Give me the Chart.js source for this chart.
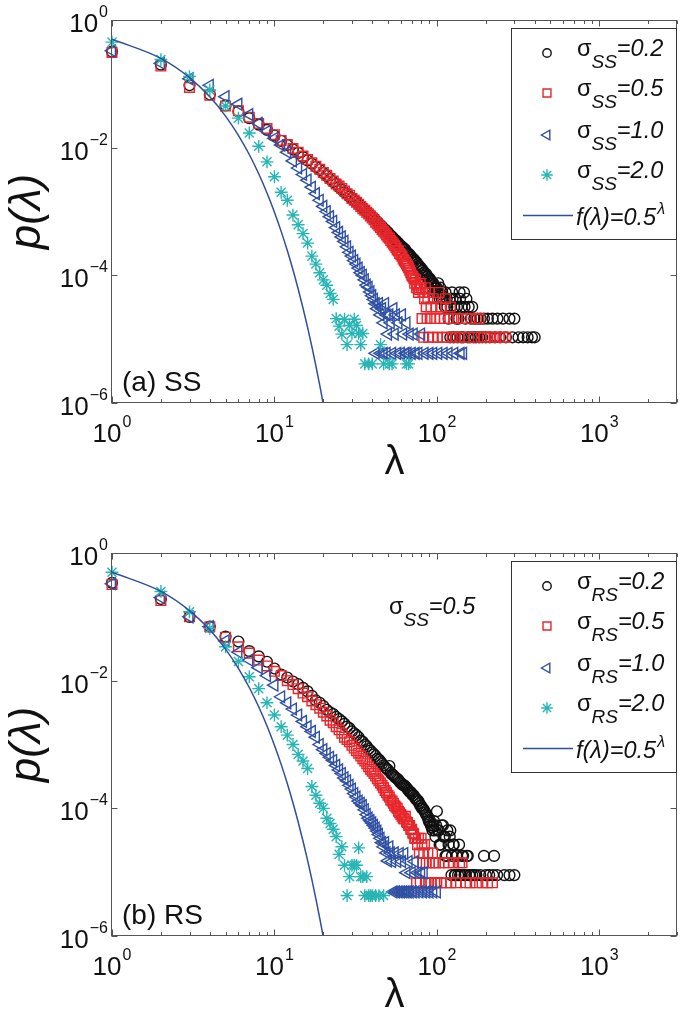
<!DOCTYPE html>
<html><head><meta charset="utf-8">
<script src="https://cdn.jsdelivr.net/npm/chart.js@4.4.0/dist/chart.umd.min.js"></script>
<style>
html,body{margin:0;padding:0;background:#fff;}
#wrap{position:relative;width:685px;height:1024px;overflow:hidden;}
canvas{position:absolute;left:0;display:block;}
</style></head><body>
<div id="wrap">
<canvas id="cA" width="685" height="512" style="top:0"></canvas>
<canvas id="cB" width="685" height="512" style="top:512px"></canvas>
</div>
<script>
// ---------- DATA (λ, p(λ)) ----------
const sigmaValues = ['0.2','0.5','1.0','2.0'];
const xTickValues = [1,10,100,1000];
const yTickValues = [1,1e-2,1e-4,1e-6];

const ss02 = [[1,.32],[2,.2],[3,.095],[4,.068],[5,.046],[6,.037],[7,.029],[8,.023],[9,.019],[10,.0155],[11,.0128],[12,.011],[13,.0094],[14,.0083],[15,.0071],[16,.0063],[17,.0056],[18,.005],[19,.0045],[20,.004],[21,.0036],[22,.0032],[23,.0029],[24,.0027],[25,.0024],[26,.0022],[27,.002],[28,.0019],[29,.0017],[30,.0016],[31,.0015],[32,.0014],[33,.0013],[34,.00122],[35,.00114],[36,.00106],[37,.00099],[38,.00094],[39,.00088],[40,.00082],[41,.00078],[42,.00072],[43,.00069],[44,.00064],[45,.00061],[46,.00058],[47,.00054],[48,.00052],[49,.00049],[50,.00047],[51,.00044],[52,.00042],[53,.0004],[54,.00038],[55,.00036],[56,.00035],[57,.00033],[58,.00032],[59,.0003],[60,.00029],[61,.00028],[62,.00027],[63,.00026],[64,.00025],[65,.00023],[66,.00022],[67,.00022],[68,.00021],[69,.0002],[70,.00019],[71,.00018],[72,.00018],[73,.00017],[74,.00016],[75,.00016],[76,.00015],[77,.00014],[78,.00014],[79,.00013],[80,.00013],[81,.00012],[82,.00012],[83,.00011],[84,.00011],[85,.0001],[86,.000105],[87,.000096],[88,.000095],[89,.000085],[90,.00009],[91,.000086],[92,.000075],[93,.00008],[94,.000064],[95,.000075],[96,.00007],[97,.000064],[98,.000054],[99,.000064],[100,.000064],[101,.000054],[102,.000075],[103,.000054],[104,.000043],[105,.000064],[106,.00005],[107,.000043],[108,.000054],[110,.000043],[112,.000032],[113,.000054],[115,.000043],[116,.000032],[118,.000021],[120,.000043],[121,.0000107],[122,.000032],[124,.000054],[125,.000043],[127,.0000107],[128,.000032],[130,.000043],[132,.000021],[133,.000032],[134,.0000107],[136,.000021],[138,.000054],[139,.000043],[141,.0000107],[142,.000032],[145,.0000107],[147,.000054],[148,.000032],[150,.000021],[152,.000043],[155,.0000107],[157,.000032],[160,.0000107],[162,.000021],[165,.000032],[168,.0000107],[170,.000021],[174,.0000107],[178,.000021],[182,.0000107],[186,.000021],[190,.0000107],[195,.000021],[200,.0000107],[206,.000021],[212,.0000107],[220,.000021],[228,.0000107],[236,.000021],[245,.0000107],[255,.000021],[266,.0000107],[280,.000021],[292,.0000107],[300,.000021],[318,.0000107],[340,.0000107],[362,.0000107],[385,.0000107],[400,.0000107]];

const ss05 = [[1,.31],[2,.19],[3,.088],[4,.066],[5,.045],[6,.038],[7,.03],[8,.024],[9,.02],[10,.016],[11,.013],[12,.0112],[13,.0097],[14,.0085],[15,.0074],[16,.0065],[17,.0058],[18,.0051],[19,.0046],[20,.0041],[21,.0037],[22,.0033],[23,.003],[24,.0027],[25,.0025],[26,.0023],[27,.0021],[28,.0019],[29,.0018],[30,.0016],[31,.0015],[32,.0014],[33,.0013],[34,.0012],[35,.0011],[36,.00105],[37,.00097],[38,.00091],[39,.00085],[40,.00079],[41,.00074],[42,.00068],[43,.00064],[44,.0006],[45,.00056],[46,.00052],[47,.00049],[48,.00046],[49,.00043],[50,.0004],[51,.00038],[52,.00035],[53,.00033],[54,.00031],[55,.00029],[56,.00027],[57,.00025],[58,.00024],[59,.00022],[60,.00021],[61,.0002],[62,.00018],[63,.00017],[64,.00016],[65,.00015],[66,.00014],[67,.00013],[68,.00012],[69,.00011],[70,.0001],[71,.000096],[72,.00009],[73,.000075],[74,.000085],[75,.000064],[76,.00007],[77,.000054],[78,.00006],[79,.000075],[80,.000064],[81,.000021],[82,.000054],[83,.0000107],[84,.000043],[85,.000064],[86,.000032],[87,.000021],[88,.000043],[89,.0000107],[90,.000054],[91,.000021],[92,.000032],[94,.0000107],[95,.000043],[97,.000021],[99,.000032],[101,.0000107],[103,.000054],[105,.000021],[107,.000032],[109,.0000107],[111,.000021],[113,.000043],[115,.0000107],[118,.000021],[121,.000032],[124,.0000107],[127,.000021],[130,.0000107],[134,.000021],[138,.0000107],[142,.000021],[147,.0000107],[152,.000021],[157,.0000107],[163,.000021],[169,.0000107],[175,.000021],[182,.000021],[188,.0000107],[196,.0000107],[205,.0000107],[215,.0000107],[228,.0000107],[242,.0000107],[255,.0000107],[265,.0000107]];

const ss10 = [[1,.33],[2,.21],[3,.12],[4,.095],[5,.063],[6,.048],[7,.033],[8,.024],[9,.018],[10,.014],[11,.011],[12,.0085],[13,.0062],[14,.0048],[15,.0038],[16,.0031],[17,.0024],[18,.0019],[19,.0015],[20,.0012],[21,.001],[22,.00083],[23,.0007],[24,.00056],[25,.00047],[26,.0004],[27,.00034],[28,.00028],[29,.00023],[30,.0002],[31,.00017],[32,.00015],[33,.00013],[34,.00011],[35,.0001],[36,.000085],[37,.00007],[38,.000065],[39,.000055],[40,.000048],[41,.000042],[42,.000036],[43,.00003],[44,.000036],[45,.000024],[46,.00003],[47,.000018],[48,.000036],[49,.000024],[50,.000012],[51,.000024],[52,.000018],[53,.000006],[54,.00003],[55,.000012],[56,.000024],[57,.000006],[58,.000018],[60,.000006],[61,.000024],[62,.000012],[64,.000006],[65,.000018],[66,.000006],[68,.000012],[70,.000006],[72,.000012],[74,.000006],[77,.000006],[80,.000012],[84,.000006],[90,.000006],[95,.000006],[102,.000006],[110,.000006],[118,.000006],[128,.000006],[140,.000006],[145,.000006],[42,.000006],[45,.000006],[47,.000006],[49,.000006]];

const ss20 = [[1,.45],[2,.24],[3,.13],[4,.08],[5,.045],[6,.029],[7,.017],[8,.0105],[9,.006],[10,.0035],[11,.002],[12,.0015],[13,.00088],[14,.00062],[15,.00045],[16,.00032],[17,.0002],[18,.00015],[19,.00011],[20,.000085],[21,.00007],[22,.000052],[23,.000042],[24,.000021],[25,.000016],[26,.000012],[27,.0000205],[28,.0000082],[29,.0000164],[30,.0000123],[31,.0000205],[32,.0000164],[33,.0000123],[34,.0000082],[35,.0000123],[36,.0000041],[38,.0000041],[40,.0000041],[45,.0000082],[47,.0000041],[51,.0000041],[53,.0000041],[65,.0000041],[67,.0000041]];

const rs02 = [[1,.34],[2,.19],[3,.1],[4,.07],[5,.049],[6,.041],[7,.029],[8,.024],[9,.0198],[10,.0155],[11,.0125],[12,.0112],[13,.0097],[14,.0088],[15,.0077],[16,.0068],[17,.0058],[18,.0049],[19,.0045],[20,.004],[21,.0035],[22,.0032],[23,.003],[24,.0027],[25,.0025],[26,.0023],[27,.0021],[28,.0019],[29,.0018],[30,.0016],[31,.0015],[32,.0014],[33,.0013],[34,.00115],[35,.0011],[36,.001],[37,.00094],[38,.00085],[39,.0008],[40,.00075],[41,.0007],[42,.00066],[43,.0006],[44,.00058],[45,.00054],[46,.0005],[47,.00047],[48,.00044],[49,.00042],[50,.0004],[51,.00046],[52,.00036],[53,.00034],[54,.00033],[55,.00031],[56,.0003],[57,.00029],[58,.00028],[59,.00026],[60,.00025],[61,.00024],[62,.00023],[63,.00023],[64,.00022],[65,.00021],[66,.0002],[67,.00019],[68,.00018],[69,.00018],[70,.00017],[71,.00016],[72,.00016],[73,.00015],[74,.00014],[75,.00014],[76,.00013],[77,.00013],[78,.00012],[79,.00011],[80,.00011],[81,.0001],[82,.0001],[83,.000095],[84,.00009],[85,.000085],[86,.00008],[87,.000076],[88,.000072],[89,.000065],[90,.00006],[91,.000063],[92,.000054],[93,.00005],[94,.000045],[95,.000054],[96,.000063],[97,.000045],[98,.000036],[99,.000054],[100,.00009],[101,.000045],[103,.000045],[104,.000027],[106,.000027],[107,.000054],[109,.000054],[110,.000036],[112,.000036],[113,.000018],[115,.000018],[116,.000045],[118,.000027],[120,.000036],[121,.000045],[123,.000009],[124,.000018],[126,.000027],[127,.000027],[129,.000009],[130,.000009],[132,.000018],[133,.000018],[135,.000009],[137,.000027],[139,.000009],[141,.000009],[143,.000018],[145,.000018],[148,.000009],[150,.000009],[153,.000018],[155,.000018],[158,.000009],[160,.000009],[165,.000009],[170,.000009],[175,.000009],[185,.000009],[195,.000018],[200,.000009],[210,.000009],[225,.000018],[222,.000009],[235,.000009],[260,.000009],[280,.000009],[300,.000009]];

const rs05 = [[1,.32],[2,.18],[3,.1],[4,.07],[5,.048],[6,.034],[7,.027],[8,.021],[9,.017],[10,.014],[11,.012],[12,.01],[13,.0087],[14,.0075],[15,.0064],[16,.0056],[17,.0048],[18,.0042],[19,.0037],[20,.0032],[21,.0028],[22,.0024],[23,.0022],[24,.0019],[25,.0017],[26,.0015],[27,.0013],[28,.0012],[29,.0011],[30,.00097],[31,.00088],[32,.0008],[33,.00073],[34,.00066],[35,.0006],[36,.00055],[37,.0005],[38,.00045],[39,.00041],[40,.00038],[41,.00035],[42,.00032],[43,.00029],[44,.00027],[45,.00025],[46,.00023],[47,.00021],[48,.00019],[49,.000175],[50,.00016],[51,.00015],[52,.000135],[53,.00013],[54,.00012],[55,.00011],[56,.000105],[57,.0001],[58,.00009],[59,.000085],[60,.00008],[61,.000075],[62,.00007],[63,.000068],[64,.000075],[65,.000061],[66,.00006],[67,.000054],[68,.000054],[69,.000047],[70,.000047],[71,.000041],[72,.00004],[73,.000034],[74,.000034],[75,.0000068],[76,.000027],[77,.000034],[78,.00002],[79,.0000068],[80,.000034],[81,.000027],[82,.000014],[83,.00002],[84,.000027],[85,.0000068],[86,.000014],[88,.00002],[89,.0000068],[90,.000014],[92,.0000068],[94,.00002],[95,.000014],[97,.0000068],[98,.000014],[100,.0000068],[103,.000014],[106,.0000068],[110,.000014],[114,.0000068],[118,.000014],[122,.0000068],[127,.000014],[132,.0000068],[138,.000014],[143,.000014],[150,.0000068],[160,.0000068],[175,.0000068],[190,.0000068],[205,.0000068],[220,.0000068]];

const rs10 = [[1,.33],[2,.2],[3,.1],[4,.07],[5,.042],[6,.028],[7,.021],[8,.016],[9,.012],[10,.0085],[11,.0056],[12,.0045],[13,.0036],[14,.0029],[15,.0023],[16,.0019],[17,.0016],[18,.0013],[19,.001],[20,.00083],[21,.00072],[22,.00063],[23,.00056],[24,.00047],[25,.0004],[26,.00035],[27,.0003],[28,.00027],[29,.00023],[30,.0002],[31,.00017],[32,.00015],[33,.00013],[34,.00012],[35,.00011],[36,.000095],[37,.00008],[38,.00007],[39,.000064],[40,.000059],[41,.000054],[42,.000049],[43,.000044],[44,.000039],[45,.000034],[46,.000029],[47,.000025],[48,.000029],[49,.00002],[50,.000015],[51,.000025],[52,.00002],[53,.0000147],[54,.0000049],[55,.00002],[56,.0000049],[57,.0000147],[58,.0000049],[59,.0000196],[60,.0000049],[61,.0000147],[62,.0000049],[63,.0000196],[64,.0000049],[65,.0000098],[66,.0000049],[67,.0000147],[68,.0000049],[70,.0000098],[71,.0000049],[73,.0000147],[74,.0000049],[76,.0000098],[78,.0000049],[80,.0000098],[82,.0000049],[83,.0000098],[86,.0000049],[90,.0000049],[95,.0000049],[100,.0000049]];

const rs20 = [[1,.5],[2,.25],[3,.12],[4,.066],[5,.034],[6,.02],[7,.0115],[8,.0075],[9,.0045],[10,.0029],[11,.0019],[12,.0014],[13,.001],[14,.0007],[15,.00055],[16,.00042],[17,.00022],[18,.00016],[19,.00012],[20,.0001],[21,.00007],[22,.000058],[23,.000047],[24,.000036],[25,.000019],[26,.000025],[27,.0000128],[28,.0000043],[29,.0000085],[30,.0000128],[31,.0000128],[32,.0000128],[33,.000024],[34,.0000085],[35,.0000085],[36,.0000043],[37,.0000085],[38,.0000043],[39,.0000043],[40,.0000043],[42,.0000043],[44,.0000043],[47,.0000043]];

// f(λ) = 0.5^λ
const fLine = [[1,.5],[2,.25],[3,.125],[4,.0625],[5,.03125],[6,.015625],[7,.0078125],[8,.00390625],[9,.001953125],[10,.0009765625],[11,.00048828],[12,.00024414],[13,.00012207],[14,.000061035],[15,.000030518],[16,.000015259],[17,.0000076294],[18,.0000038147],[19,.0000019073],[20,.00000095367]];

// ---------- STYLE ----------
const FONT = '"Liberation Sans", Arial, Helvetica, sans-serif';
const COLORS = ['#111111', '#e8262b', '#2e4fa3', '#27b5b5'];
const LINE_COLOR = '#2f4e9e';
const MARKERS = [
  {pointStyle:'circle', radius:5.4, rotation:0},
  {pointStyle:'rect', radius:6.8, rotation:0},
  {pointStyle:'triangle', radius:6.8, rotation:-90},
  {pointStyle:'star', radius:6.4, rotation:0}
];
const LEG_MARKERS = [
  {pointStyle:'circle', radius:4.2, rotation:0},
  {pointStyle:'rect', radius:5.6, rotation:0},
  {pointStyle:'triangle', radius:5.6, rotation:-90},
  {pointStyle:'star', radius:5.8, rotation:0}
];

function toXY(arr){ return arr.map(d => ({x:d[0], y:d[1]})); }

function drawMarker(ctx, m, x, y, color, lw){
  ctx.save();
  ctx.strokeStyle = color; ctx.fillStyle = 'rgba(0,0,0,0)'; ctx.lineWidth = lw;
  Chart.helpers.drawPoint(ctx, {pointStyle:m.pointStyle, radius:m.radius, rotation:m.rotation, borderWidth:lw}, x, y);
  ctx.restore();
}

function drawPow(ctx, exp, ax, baseY, align){
  ctx.font = '26px ' + FONT;
  const w10 = ctx.measureText('10').width;
  ctx.font = '16px ' + FONT;
  const we = ctx.measureText(exp).width;
  const total = w10 + 1 + we;
  let sx = align === 'right' ? ax - total : ax - total/2;
  ctx.textAlign = 'left';
  ctx.textBaseline = 'alphabetic';
  ctx.font = '26px ' + FONT;
  ctx.fillText('10', sx, baseY);
  ctx.font = '16px ' + FONT;
  ctx.fillText(exp, sx + w10 + 1, baseY - 15);
}

function drawSigma(ctx, x, yBase, sub, val){
  ctx.textAlign = 'left'; ctx.textBaseline = 'alphabetic';
  ctx.font = '23.5px ' + FONT;
  ctx.fillText('σ', x, yBase);
  const w = ctx.measureText('σ').width;
  ctx.font = 'italic 19px ' + FONT;
  ctx.fillText(sub, x + w, yBase + 12);
  const ws = ctx.measureText(sub).width;
  ctx.font = 'italic 23.5px ' + FONT;
  ctx.fillText('=' + val, x + w + ws, yBase);
}

function makePanel(canvasId, series, sub, panelLabel, topPad, note){
  const bottomSpace = 512 - (topPad + 383);
  const decor = {
    id: 'decor',
    afterDatasetsDraw(chart){
      const {ctx, chartArea: ca, scales} = chart;
      const xs = scales.x, ys = scales.y;
      const L = Math.round(ca.left) - 0.5, R = Math.round(ca.right) - 0.5;
      const T = Math.round(ca.top) + 0.5, B = Math.round(ca.bottom) - 0.5;
      ctx.save();
      ctx.strokeStyle = '#555'; ctx.lineWidth = 1;
      ctx.strokeRect(L, T, R - L, B - T);
      ctx.beginPath();
      for (let d = 1; d <= 1000; d *= 10){
        for (let k = 1; k <= 9; k++){
          const v = d * k;
          if (v > xs.max) break;
          const px = Math.round(xs.getPixelForValue(v)) + 0.5;
          const len = (k === 1) ? 6 : 3.5;
          ctx.moveTo(px, B); ctx.lineTo(px, B - len);
          ctx.moveTo(px, T); ctx.lineTo(px, T + len);
        }
      }
      yTickValues.forEach(v => {
        const py = Math.round(ys.getPixelForValue(v)) + 0.5;
        ctx.moveTo(L, py); ctx.lineTo(L + 6, py);
        ctx.moveTo(R, py); ctx.lineTo(R - 6, py);
      });
      ctx.stroke();

      ctx.fillStyle = '#111';
      xTickValues.forEach(v => {
        const px = xs.getPixelForValue(v);
        drawPow(ctx, String(Math.round(Math.log10(v))), px, ca.bottom + 39, 'center');
      });
      yTickValues.forEach(v => {
        const py = ys.getPixelForValue(v);
        const e = Math.round(Math.log10(v));
        drawPow(ctx, e === 0 ? '0' : '\u2212' + Math.abs(e), ca.left - 4, py + 12, 'right');
      });

      ctx.textAlign = 'center'; ctx.textBaseline = 'middle';
      ctx.font = '40px ' + FONT;
      ctx.fillText('λ', (ca.left + ca.right)/2, ca.bottom + 60);
      ctx.save();
      ctx.translate(28, (ca.top + ca.bottom)/2);
      ctx.rotate(-Math.PI/2);
      ctx.font = 'italic 44px ' + FONT;
      ctx.fillText('p(λ)', 0, 0);
      ctx.restore();

      ctx.textAlign = 'left'; ctx.textBaseline = 'alphabetic';
      ctx.font = '28px ' + FONT;
      ctx.fillText(panelLabel, ca.left + 10, ca.bottom - 12);

      if (note) drawSigma(ctx, note.x, ca.top + note.dy, note.sub, note.val);

      const lx = 511, ly = ca.top + 8, lw = 165, lh = 211;
      ctx.fillStyle = '#fff';
      ctx.fillRect(lx, ly, lw, lh);
      ctx.strokeStyle = '#333'; ctx.lineWidth = 1;
      ctx.strokeRect(lx + 0.5, ly + 0.5, lw, lh);
      const rows = [25, 65, 107, 147, 187];
      for (let i = 0; i < 4; i++){
        drawMarker(ctx, LEG_MARKERS[i], lx + 36, ly + rows[i], COLORS[i], 1.4);
        ctx.fillStyle = '#111';
        drawSigma(ctx, lx + 66, ly + rows[i] + 3, sub, sigmaValues[i]);
      }
      const ry = ly + rows[4] + 0.5;
      ctx.strokeStyle = LINE_COLOR; ctx.lineWidth = 1.5;
      ctx.beginPath(); ctx.moveTo(lx + 12, ry); ctx.lineTo(lx + 62, ry); ctx.stroke();
      ctx.fillStyle = '#111';
      ctx.font = 'italic 23.5px ' + FONT;
      ctx.textAlign = 'left';
      const ftxt = 'f(λ)=0.5';
      ctx.fillText(ftxt, lx + 65, ly + rows[4] + 10);
      const fw = ctx.measureText(ftxt).width;
      ctx.font = 'italic 16px ' + FONT;
      ctx.fillText('λ', lx + 65 + fw + 1, ly + rows[4] - 1);
      ctx.restore();
    }
  };

  const datasets = series.map((s, i) => ({
    data: toXY(s),
    showLine: false,
    pointStyle: MARKERS[i].pointStyle,
    pointRadius: MARKERS[i].radius,
    pointRotation: MARKERS[i].rotation,
    pointBorderColor: COLORS[i],
    pointBackgroundColor: 'rgba(0,0,0,0)',
    pointBorderWidth: 1.4,
    clip: false,
    order: 4 - i
  }));
  datasets.push({
    data: toXY(fLine),
    showLine: true,
    borderColor: LINE_COLOR,
    borderWidth: 1.5,
    pointRadius: 0,
    cubicInterpolationMode: 'monotone',
    fill: false,
    clip: 0,
    order: 0
  });

  return new Chart(document.getElementById(canvasId), {
    type: 'scatter',
    data: {datasets},
    options: {
      responsive: false,
      devicePixelRatio: 1,
      animation: false,
      events: [],
      layout: {padding: {left: 0, right: 1, top: topPad, bottom: 0}},
      plugins: {legend: {display: false}, tooltip: {enabled: false}},
      scales: {
        x: {
          type: 'logarithmic', min: 1, max: 3000, bounds: 'data',
          ticks: {display: false}, grid: {display: false}, border: {display: false},
          afterFit: s => { s.height = bottomSpace; }
        },
        y: {
          type: 'logarithmic', min: 1e-6, max: 1, bounds: 'data',
          ticks: {display: false}, grid: {display: false}, border: {display: false},
          afterFit: s => { s.width = 112; }
        }
      }
    },
    plugins: [decor]
  });
}

makePanel('cA', [ss02, ss05, ss10, ss20], 'SS', '(a) SS', 20, null);
makePanel('cB', [rs02, rs05, rs10, rs20], 'RS', '(b) RS', 41, {x: 389, dy: 61, sub: 'SS', val: '0.5'});
</script>
</body></html>
